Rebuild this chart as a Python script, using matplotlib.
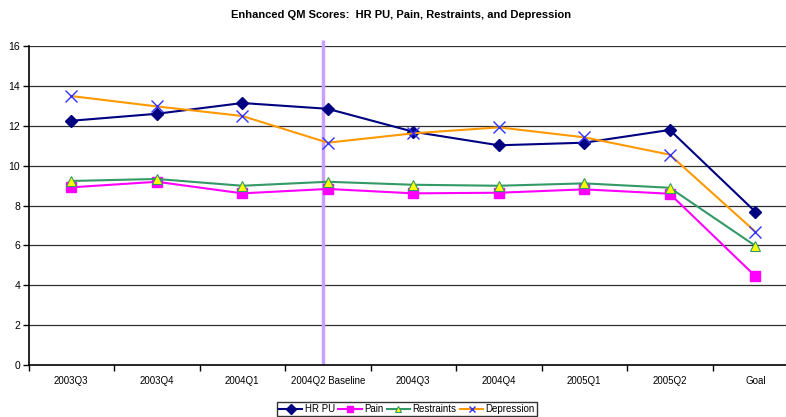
import matplotlib
matplotlib.use("Agg")
import matplotlib.pyplot as plt
import numpy as np

categories = ["2003Q3", "2003Q4", "2004Q1", "2004Q2 Baseline", "2004Q3",
              "2004Q4", "2005Q1", "2005Q2", "Goal"]
hr_pu = [12.25, 12.6, 13.14, 12.85, 11.7, 11.02, 11.15, 11.79, 7.69]
pain = [8.91, 9.19, 8.61, 8.83, 8.61, 8.64, 8.81, 8.59, 4.46]
restraints = [9.23, 9.33, 8.99, 9.19, 9.04, 8.99, 9.11, 8.89, 5.98]
depression = [13.49, 12.97, 12.49, 11.15, 11.62, 11.92, 11.42, 10.55, 6.69]
baseline_x = 2.94
title = "Enhanced QM Scores:  HR PU, Pain, Restraints, and Depression"

plt.rcParams['font.family'] = ['Liberation Sans', 'DejaVu Sans']

fig = plt.figure(figsize=(7.86, 4.17), dpi=100)
ax = fig.add_axes([28.5/786, 1-365/417, (798-28.5)/786, (365-46)/417])

x = np.arange(len(categories))
ax.set_xlim(-0.5, len(categories)-0.5)
ax.set_ylim(0, 16)
ax.set_yticks(np.arange(0, 17, 2))
for yv in np.arange(2, 17, 2):
    ax.axhline(yv, color='#303030', lw=0.9, zorder=0)

ax.plot([baseline_x, baseline_x], [0, 16.3], color='#C8A0FF', lw=2.5,
        clip_on=False, zorder=1, solid_capstyle='butt')

l1, = ax.plot(x, hr_pu, color='#000080', lw=1.5, marker='D', ms=6,
              mfc='#000080', mec='#000080', label='HR PU', zorder=3)
l2, = ax.plot(x, pain, color='#FF00FF', lw=1.5, marker='s', ms=7,
              mfc='#FF00FF', mec='#FF00FF', label='Pain', zorder=3)
l3, = ax.plot(x, restraints, color='#339966', lw=1.5, marker='^', ms=7,
              mfc='#FFFF00', mec='#339966', mew=0.8, label='Restraints', zorder=4)
l4, = ax.plot(x, depression, color='#FF9900', lw=1.5, marker='x', ms=9,
              mfc='#3333FF', mec='#3333FF', mew=1.0, label='Depression', zorder=3)

ax.set_xticks(x)
ax.set_xticklabels(categories, fontsize=7)
ax.set_xticks(np.arange(-0.5, len(categories)+0.5, 1), minor=True)
ax.tick_params(axis='x', which='major', length=0, pad=8)
ax.tick_params(axis='x', which='minor', length=4, width=1, direction='out', color='black')
ax.tick_params(axis='y', labelsize=7.5, length=4, width=1, direction='out', pad=2)

for s in ['top', 'right']:
    ax.spines[s].set_visible(False)
ax.spines['left'].set_linewidth(1.2)
ax.spines['bottom'].set_linewidth(1.2)

fig.text(401/786, 1-15/417, title, ha='center', va='center',
         fontsize=8, fontweight='bold')

leg = fig.legend(handles=[l1, l2, l3, l4], loc='center',
                 bbox_to_anchor=(407/786, 1-409/417), ncol=4, fontsize=7,
                 frameon=True, fancybox=False, edgecolor='black',
                 handlelength=2.4, columnspacing=0.35, handletextpad=0.25,
                 borderpad=0.25, borderaxespad=0)
leg.get_frame().set_linewidth(1.0)
for h in leg.legend_handles:
    h.set_markersize(5)

fig.savefig("out.png", dpi=100)
